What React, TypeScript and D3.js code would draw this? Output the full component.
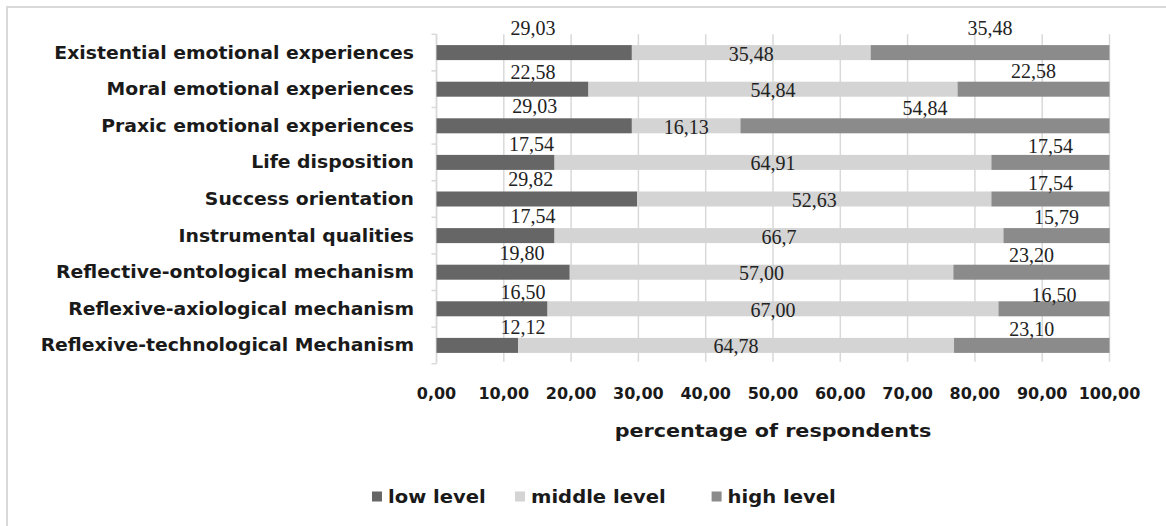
import React from "react";
import * as d3 from "d3";

// ---------- data ----------
const categories = [
  "Existential emotional experiences",
  "Moral emotional experiences",
  "Praxic emotional experiences",
  "Life disposition",
  "Success orientation",
  "Instrumental qualities",
  "Reflective-ontological mechanism",
  "Reflexive-axiological mechanism",
  "Reflexive-technological Mechanism",
];
const lowLevel = ["29,03", "22,58", "29,03", "17,54", "29,82", "17,54", "19,80", "16,50", "12,12"];
const middleLevel = ["35,48", "54,84", "16,13", "64,91", "52,63", "66,7", "57,00", "67,00", "64,78"];
const highLevel = ["35,48", "22,58", "54,84", "17,54", "17,54", "15,79", "23,20", "16,50", "23,10"];
const seriesNames = ["low level", "middle level", "high level"];
const xTicks = [0, 10, 20, 30, 40, 50, 60, 70, 80, 90, 100];
const axisTitle = "percentage of respondents";

// ---------- layout / style ----------
const W = 1166;
const H = 526;
const X0 = 436.5;
const X1 = 1109.5;
const Y0 = 34.3;
const Y1 = 363.7;
const colors = ["#666666", "#d4d4d4", "#8b8b8b"];
const gridColor = "#d9d9d9";
const textColor = "#1a1a1a";
const sansFont = "'DejaVu Sans', sans-serif";
const serifFont = "'Liberation Serif', 'Times New Roman', serif";
const WIDEN = 1.12; // horizontal stretch to mimic a wide geometric face
// manual label nudges (as placed in the original)
const lowLabelAt = [14.34, 14.34, 14.6, 14.1, 14.0, 14.34, 12.7, 12.85, 12.85];
const lowLift = [10, 2.5, 5, 4, 5, 5, 5, 2.7, 4.3];
const highLift = [10, 4, 3.3, 1.4, 1.7, 4, 2.3, -1, 1.6];
const legendX = [372, 515, 711.6];

const num = (s: string) => parseFloat(s.replace(",", "."));
const tickFmt = (v: number) => d3.format(".2f")(v).replace(".", ",");

export default function App() {
  const x = d3.scaleLinear().domain([0, 100]).range([X0, X1]);
  const y = d3
    .scaleBand<string>()
    .domain(categories)
    .range([Y0, Y1])
    .paddingInner(0.59)
    .paddingOuter(0.295);

  const rows = categories.map((c, i) => ({
    cat: c,
    low: num(lowLevel[i]),
    middle: num(middleLevel[i]),
    high: num(highLevel[i]),
  }));
  const keys = ["low", "middle", "high"];
  const stacked = d3.stack<any>().keys(keys)(rows);
  const texts = [lowLevel, middleLevel, highLevel];

  const bw = y.bandwidth();
  const step = y.step();
  const boundaries = categories.map((c) => (y(c) as number) - (step - bw) / 2);
  boundaries.push(Y1);

  return (
    <div style={{ position: "fixed", left: 0, top: 0, width: W, height: H, background: "#fff" }}>
      <svg width={W} height={H} style={{ display: "block" }}>
        <rect x={0} y={0} width={W} height={H} fill="#fff" />
        <rect x={7} y={7} width={W + 20} height={H + 20} fill="none" stroke={gridColor} strokeWidth={2} />

        {/* gridlines */}
        {xTicks.map((t) => (
          <line key={"g" + t} x1={x(t)} x2={x(t)} y1={Y0} y2={Y1 - 2} stroke={gridColor} strokeWidth={1.5} />
        ))}
        {/* category axis */}
        <line x1={X0} x2={X0} y1={Y0} y2={Y1} stroke={gridColor} strokeWidth={1.5} />
        {boundaries.map((b, i) => (
          <line key={"t" + i} x1={X0 - 5} x2={X0} y1={b} y2={b} stroke={gridColor} strokeWidth={1.5} />
        ))}

        {/* bars */}
        {stacked.map((s, si) => (
          <g key={s.key} fill={colors[si]}>
            {s.map((d: any, i: number) => (
              <rect
                key={i}
                x={x(d[0])}
                y={y(categories[i])}
                width={x(d[1]) - x(d[0])}
                height={bw}
              />
            ))}
          </g>
        ))}

        {/* data labels */}
        {stacked.map((s, si) => (
          <g key={"l" + s.key} fontFamily={serifFont} fontSize={20} fill="#222" textAnchor="middle">
            {s.map((d: any, i: number) => {
              const top = y(categories[i]) as number;
              let lx: number;
              let ly: number;
              if (si === 0) {
                lx = x(lowLabelAt[i]);
                ly = top - lowLift[i];
              } else if (si === 1) {
                lx = x((d[0] + d[1]) / 2);
                ly = top + bw + 0.5;
              } else {
                lx = x((d[0] + d[1]) / 2);
                ly = top - highLift[i];
              }
              return (
                <text key={i} x={lx} y={ly}>
                  {texts[si][i]}
                </text>
              );
            })}
          </g>
        ))}

        {/* category labels */}
        {categories.map((c) => (
          <text
            key={c}
            transform={`translate(414,${(y(c) as number) + bw / 2 + 6}) scale(${WIDEN},1)`}
            textAnchor="end"
            fontFamily={sansFont}
            fontWeight="bold"
            fontSize={16.8}
            fill={textColor}
          >
            {c}
          </text>
        ))}

        {/* x tick labels */}
        {xTicks.map((t) => (
          <text
            key={"x" + t}
            x={x(t)}
            y={399}
            textAnchor="middle"
            fontFamily={sansFont}
            fontWeight="bold"
            fontSize={16}
            fill={textColor}
          >
            {tickFmt(t)}
          </text>
        ))}

        {/* axis title */}
        <text
          transform={`translate(${(X0 + X1) / 2},437) scale(${WIDEN},1)`}
          textAnchor="middle"
          fontFamily={sansFont}
          fontWeight="bold"
          fontSize={18.5}
          fill={textColor}
        >
          {axisTitle}
        </text>

        {/* legend */}
        {seriesNames.map((n, i) => (
          <g key={n}>
            <rect x={legendX[i]} y={491.5} width={10} height={10} fill={colors[i]} />
            <text
              transform={`translate(${legendX[i] + 16},502.5) scale(${WIDEN},1)`}
              fontFamily={sansFont}
              fontWeight="bold"
              fontSize={17.5}
              fill={textColor}
            >
              {n}
            </text>
          </g>
        ))}
      </svg>
    </div>
  );
}
